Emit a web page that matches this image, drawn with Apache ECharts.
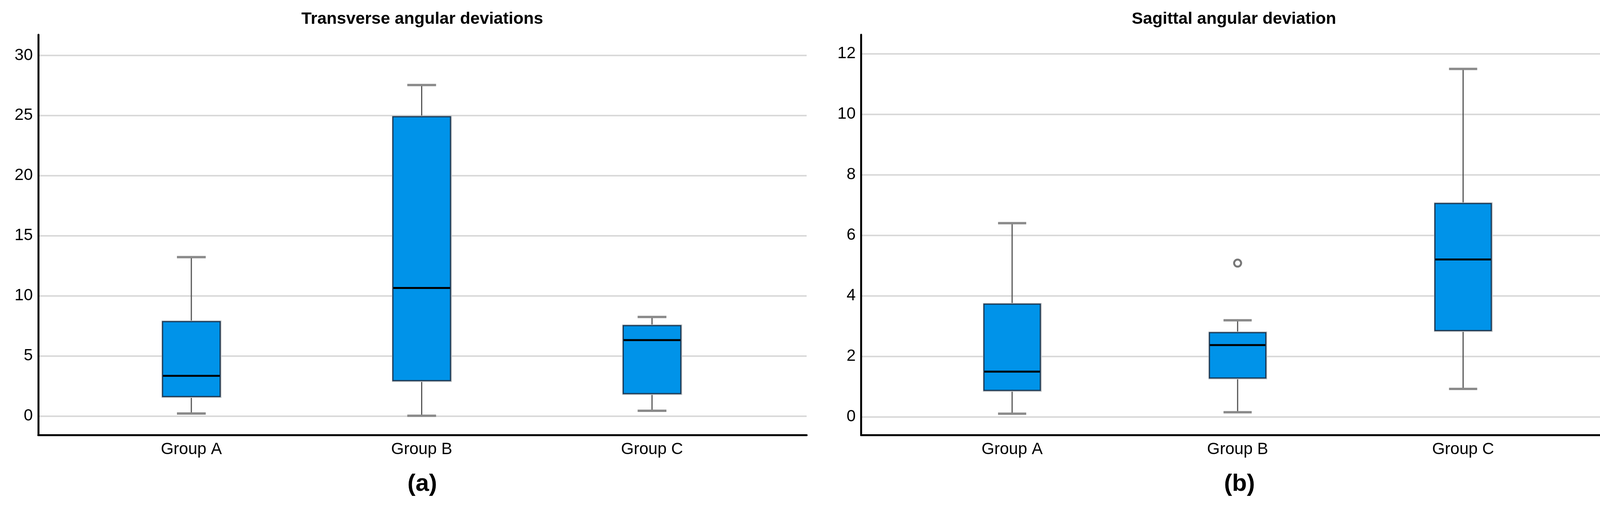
<!DOCTYPE html>
<html>
<head>
<meta charset="utf-8">
<script src="https://cdn.jsdelivr.net/npm/echarts@6/dist/echarts.min.js"></script>
<style>
  html, body { margin: 0; padding: 0; background: #ffffff; }
  #chart { width: 4180px; height: 1301px; }
</style>
</head>
<body>
<div id="chart"></div>
<script>
// ---- data ----
const categories = ['Group A', 'Group B', 'Group C'];
// [min, Q1, median, Q3, max]
const transverseBox = [
  [0.20, 1.62, 3.34, 7.85, 13.22],
  [0.02, 2.94, 10.65, 24.90, 27.54],
  [0.43, 1.86, 6.31, 7.51, 8.24]
];
const sagittalBox = [
  [0.10, 0.87, 1.49, 3.72, 6.40],
  [0.15, 1.28, 2.37, 2.78, 3.19],
  [0.92, 2.85, 5.20, 7.05, 11.50]
];
const transverseOutliers = [];
const sagittalOutliers = [[1, 5.08]];
const panelTitles = ['Transverse angular deviations', 'Sagittal angular deviation'];
const panelTags = ['(a)', '(b)'];
const transverseRange = [-1.6, 31.72];
const sagittalRange = [-0.61, 12.63];

// ---- styling ----
const FONT = '"Liberation Sans", Arial, Helvetica, sans-serif';
const TOP = 89, BOTTOM_Y = 1114.5;
const HEIGHT = BOTTOM_Y - TOP;

const panels = [
  { frameLeft: 98, frameRight: 2065, innerLeft: 195, innerWidth: 1769, range: transverseRange, box: transverseBox, out: transverseOutliers, titleX: 1081, tagX: 1081 },
  { frameLeft: 2204.5, frameRight: 4132.5, innerLeft: 2302.4, innerWidth: 1731.8, range: sagittalRange, box: sagittalBox, out: sagittalOutliers, titleX: 3159, tagX: 3173 }
];

function renderBox(params, api) {
  const i = api.value(0);
  const vMin = api.value(1), q1 = api.value(2), med = api.value(3), q3 = api.value(4), vMax = api.value(5);
  const band = api.size([1, 0])[0];
  const bw = band * 0.25, cw = band * 0.125;
  const pMax = api.coord([i, vMax]), pQ3 = api.coord([i, q3]), pMed = api.coord([i, med]);
  const pQ1 = api.coord([i, q1]), pMin = api.coord([i, vMin]);
  const x = pMed[0];
  const whisker = { stroke: '#555555', lineWidth: 3 };
  const cap = { stroke: '#8a8a8a', lineWidth: 6 };
  return {
    type: 'group',
    children: [
      { type: 'line', shape: { x1: x, y1: pMax[1], x2: x, y2: pQ3[1] }, style: whisker },
      { type: 'line', shape: { x1: x, y1: pQ1[1], x2: x, y2: pMin[1] }, style: whisker },
      { type: 'line', shape: { x1: x - cw / 2, y1: pMax[1], x2: x + cw / 2, y2: pMax[1] }, style: cap },
      { type: 'line', shape: { x1: x - cw / 2, y1: pMin[1], x2: x + cw / 2, y2: pMin[1] }, style: cap },
      { type: 'rect', shape: { x: x - bw / 2 - 1, y: pQ3[1] - 1.5, width: bw + 3, height: pQ1[1] - pQ3[1] + 3.5 },
        style: { fill: 'none', stroke: '#c4c4c4', lineWidth: 3 } },
      { type: 'rect', shape: { x: x - bw / 2, y: pQ3[1], width: bw, height: pQ1[1] - pQ3[1] },
        style: { fill: '#0093e9', stroke: '#1b3a57', lineWidth: 3 } },
      { type: 'line', shape: { x1: x - bw / 2 + 1, y1: pMed[1], x2: x + bw / 2 - 1, y2: pMed[1] },
        style: { stroke: '#000000', lineWidth: 5 } }
    ]
  };
}

const grids = [], xAxes = [], yAxes = [], series = [], graphics = [];
panels.forEach((p, k) => {
  const fi = k * 2, ii = k * 2 + 1;
  grids.push({ left: p.frameLeft, top: TOP, width: p.frameRight - p.frameLeft, height: HEIGHT, containLabel: false });
  grids.push({ left: p.innerLeft, top: TOP, width: p.innerWidth, height: HEIGHT, containLabel: false });
  // frame axes
  xAxes.push({
    type: 'value', gridIndex: fi, min: 0, max: 1,
    axisLine: { show: true, onZero: false, lineStyle: { color: '#000', width: 5 } },
    axisTick: { show: false }, axisLabel: { show: false }, splitLine: { show: false }
  });
  yAxes.push({
    type: 'value', gridIndex: fi, min: p.range[0], max: p.range[1], splitNumber: 6,
    axisLine: { show: true, onZero: false, lineStyle: { color: '#000', width: 5 } },
    axisTick: { show: false },
    axisLabel: {
      show: true, showMinLabel: false, showMaxLabel: false, margin: 14,
      color: '#000', fontFamily: FONT, fontSize: 42
    },
    splitLine: { show: true, showMinLine: false, showMaxLine: false, lineStyle: { color: '#d9d9d9', width: 4 } }
  });
  // inner axes for marks
  xAxes.push({
    type: 'category', gridIndex: ii, data: categories, boundaryGap: true,
    axisLine: { show: false }, axisTick: { show: false }, splitLine: { show: false },
    axisLabel: { show: true, margin: 16, color: '#000', fontFamily: FONT, fontSize: 42 }
  });
  yAxes.push({ type: 'value', gridIndex: ii, min: p.range[0], max: p.range[1], show: false, splitLine: { show: false } });

  series.push({
    type: 'custom', xAxisIndex: ii, yAxisIndex: ii, clip: false,
    renderItem: renderBox,
    encode: { x: 0, y: [1, 2, 3, 4, 5] },
    data: p.box.map((v, i) => [i].concat(v))
  });
  if (p.out.length) {
    series.push({
      type: 'scatter', xAxisIndex: ii, yAxisIndex: ii, symbol: 'circle', symbolSize: 18,
      itemStyle: { color: '#ffffff', borderColor: '#777777', borderWidth: 5, opacity: 1 },
      data: p.out, z: 5
    });
  }
  graphics.push({
    type: 'text', x: p.titleX, y: 49,
    style: { text: panelTitles[k], fill: '#000', font: 'bold 43px ' + FONT, align: 'center', verticalAlign: 'middle' }
  });
  graphics.push({
    type: 'text', x: p.tagX, y: 1240,
    style: { text: panelTags[k], fill: '#000', font: 'bold 62px ' + FONT, align: 'center', verticalAlign: 'middle' }
  });
});

const chart = echarts.init(document.getElementById('chart'), null, { renderer: 'canvas' });
chart.setOption({
  animation: false,
  backgroundColor: '#ffffff',
  grid: grids,
  xAxis: xAxes,
  yAxis: yAxes,
  series: series,
  graphic: graphics
});
</script>
</body>
</html>
